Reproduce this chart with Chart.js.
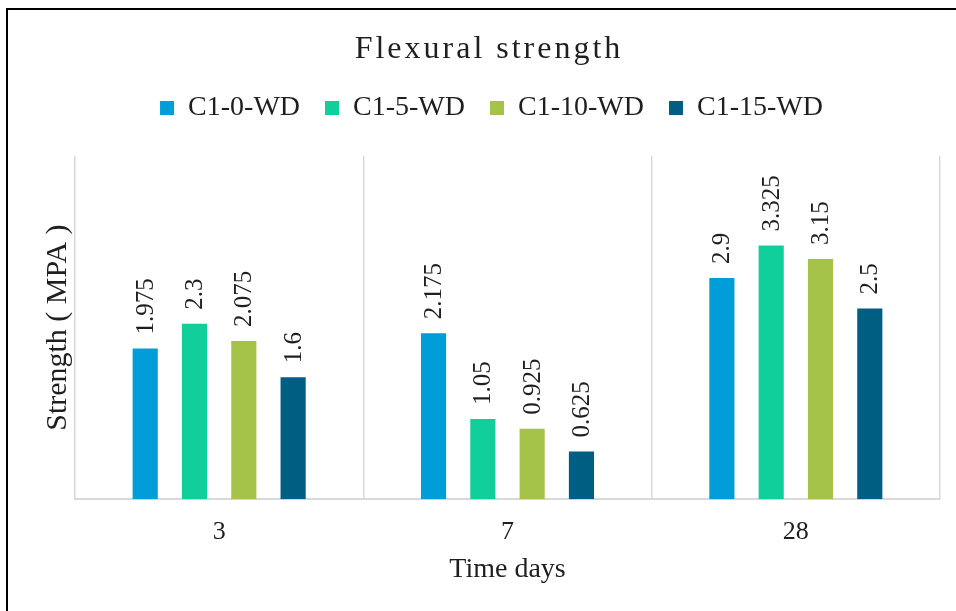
<!DOCTYPE html>
<html>
<head>
<meta charset="utf-8">
<title>Flexural strength</title>
<script src="https://cdn.jsdelivr.net/npm/chart.js@4.4.1/dist/chart.umd.min.js"></script>
<style>
  html, body { margin: 0; padding: 0; background: #fff; }
  #wrap { position: relative; width: 956px; height: 611px; overflow: hidden; }
  #myChart { position: absolute; left: 0; top: 0; }
  .frame { position: absolute; left: 6px; top: 8px; right: 0; bottom: 0; border-left: 2px solid #000; border-top: 2px solid #000; pointer-events: none; }
</style>
</head>
<body>
<div id="wrap">
  <canvas id="myChart" width="956" height="611"></canvas>
  <div class="frame"></div>
</div>
<script>
var days = ['3', '7', '28'];
var c1_0_wd = [1.975, 2.175, 2.9];
var c1_5_wd = [2.3, 1.05, 3.325];
var c1_10_wd = [2.075, 0.925, 3.15];
var c1_15_wd = [1.6, 0.625, 2.5];
var seriesNames = ['C1-0-WD', 'C1-5-WD', 'C1-10-WD', 'C1-15-WD'];
var seriesColors = ['#009DD9', '#10CF9B', '#A5C249', '#005E82'];
var yMax = 4.5;

var textColor = '#1f1f1f';
Chart.defaults.font.family = "'Liberation Serif', 'Times New Roman', serif";
Chart.defaults.color = textColor;

// push the plot down a bit below the legend
var legendGap = {
	id: 'legendGap',
	beforeInit: function(chart) {
		var fit = chart.legend.fit;
		chart.legend.fit = function() {
			fit.call(this);
			this.height += 24;
		};
	}
};

// chart title, spaced out letters
var spacedTitle = {
	id: 'spacedTitle',
	afterDraw: function(chart) {
		var ctx = chart.ctx;
		ctx.save();
		ctx.font = "32px 'Liberation Serif'";
		ctx.fillStyle = textColor;
		ctx.textAlign = 'center';
		ctx.textBaseline = 'alphabetic';
		ctx.letterSpacing = '3px';
		ctx.fillText('Flexural strength', 489, 58);
		ctx.restore();
	}
};

// vertical value labels above every bar
var valueLabels = {
	id: 'valueLabels',
	afterDatasetsDraw: function(chart) {
		var ctx = chart.ctx;
		ctx.save();
		ctx.font = "25px 'Liberation Serif'";
		ctx.fillStyle = textColor;
		ctx.textAlign = 'left';
		ctx.textBaseline = 'middle';
		chart.data.datasets.forEach(function(ds, i) {
			chart.getDatasetMeta(i).data.forEach(function(bar, j) {
				ctx.save();
				ctx.translate(bar.x, bar.y - 14);
				ctx.rotate(-Math.PI / 2);
				ctx.fillText(String(ds.data[j]), 0, 1);
				ctx.restore();
			});
		});
		ctx.restore();
	}
};

var seriesValues = [c1_0_wd, c1_5_wd, c1_10_wd, c1_15_wd];
var datasets = seriesNames.map(function(name, i) {
	return {
		label: name,
		data: seriesValues[i],
		backgroundColor: seriesColors[i],
		categoryPercentage: 0.684,
		barPercentage: 0.51
	};
});

var ctx = document.getElementById('myChart').getContext('2d');
var myChart = new Chart(ctx, {
	type: 'bar',
	data: {
		labels: days,
		datasets: datasets
	},
	options: {
		responsive: false,
		animation: false,
		layout: { padding: { top: 69, left: 43, right: 16, bottom: 25 } },
		plugins: {
			title: { display: false },
			tooltip: { enabled: false },
			legend: {
				position: 'top',
				labels: {
					boxWidth: 14,
					boxHeight: 14,
					padding: 25,
					color: textColor,
					font: { size: 28 }
				}
			}
		},
		scales: {
			x: {
				grid: { color: '#d9d9d9', lineWidth: 1.5, drawTicks: false, offset: true },
				border: { color: '#d9d9d9', width: 2 },
				ticks: { font: { size: 26 }, padding: 17, color: textColor },
				title: {
					display: true,
					text: 'Time days',
					color: textColor,
					font: { size: 28 },
					padding: { top: -12, bottom: 0 }
				}
			},
			y: {
				min: 0,
				max: yMax,
				grid: { display: false, drawTicks: false },
				border: { display: false },
				ticks: { display: false },
				title: {
					display: true,
					text: 'Strength ( MPA )',
					color: textColor,
					font: { size: 30, lineHeight: 1 },
					padding: { top: 0, bottom: 2 }
				}
			}
		}
	},
	plugins: [legendGap, spacedTitle, valueLabels]
});
</script>
</body>
</html>
